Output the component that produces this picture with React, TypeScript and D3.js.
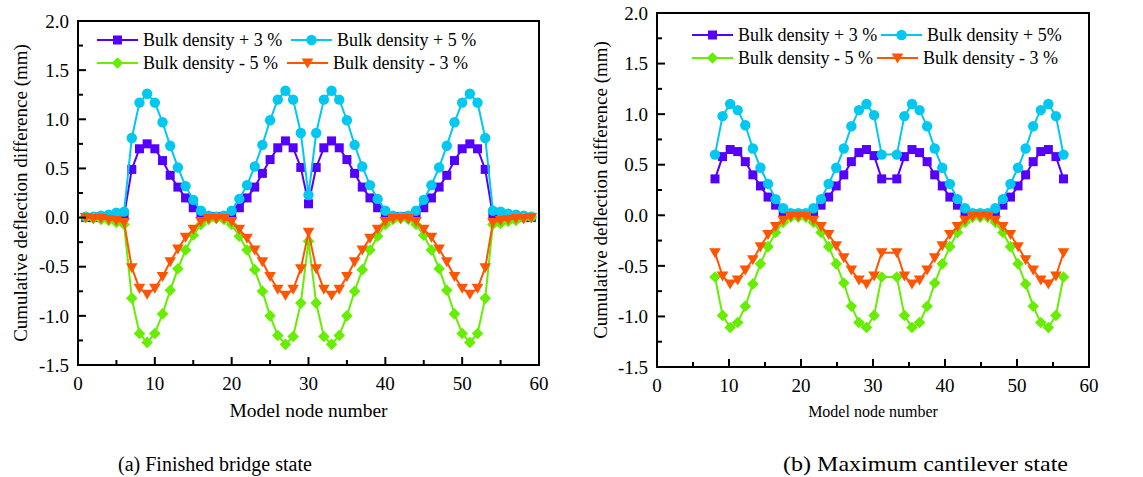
import React from 'react';
import * as d3 from 'd3';

// ---------- data ----------
const leftNodes = [1,2,3,4,5,6,7,8,9,10,11,12,13,14,15,16,17,18,19,20,21,22,23,24,25,26,27,28,29,30,31,32,33,34,35,36,37,38,39,40,41,42,43,44,45,46,47,48,49,50,51,52,53,54,55,56,57,58,59];
const leftPlus3 = [0.00,0.00,0.01,0.01,0.02,0.02, 0.49,0.70,0.75,0.70,0.58,0.43,0.31,0.20,0.10,0.03, 0.01,0.01,0.01, 0.03,0.10,0.20,0.31,0.45,0.59,0.71,0.78,0.71,0.51, 0.14, 0.51,0.71,0.78,0.71,0.59,0.45,0.31,0.20,0.10,0.03, 0.01,0.01,0.01, 0.03,0.10,0.20,0.31,0.43,0.58,0.70,0.75,0.70,0.49, 0.02,0.02,0.01,0.01,0.00,0.00];
const leftPlus5 = [0.01,0.01,0.02,0.03,0.05,0.06, 0.81,1.17,1.26,1.17,0.97,0.73,0.51,0.32,0.18,0.07, 0.02,0.01,0.02, 0.07,0.19,0.33,0.52,0.74,0.99,1.20,1.29,1.20,0.86, 0.23, 0.86,1.20,1.29,1.20,0.99,0.74,0.52,0.33,0.19,0.07, 0.02,0.01,0.02, 0.07,0.18,0.33,0.51,0.73,0.97,1.17,1.26,1.17,0.81, 0.07,0.06,0.04,0.03,0.02,0.01];
const leftMinus5 = [0.00,-0.01,-0.02,-0.03,-0.05,-0.07, -0.82,-1.18,-1.27,-1.18,-0.98,-0.74,-0.52,-0.33,-0.18,-0.07, -0.02,-0.01,-0.02, -0.07,-0.19,-0.33,-0.53,-0.75,-1.00,-1.20,-1.29,-1.21,-0.87, -0.24, -0.87,-1.21,-1.29,-1.20,-1.00,-0.75,-0.53,-0.33,-0.19,-0.07, -0.02,-0.01,-0.02, -0.07,-0.18,-0.33,-0.52,-0.74,-0.98,-1.18,-1.27,-1.18,-0.82, -0.07,-0.06,-0.04,-0.03,-0.01,0.00];
const leftMinus3 = [0.00,-0.01,-0.01,-0.02,-0.03,-0.05, -0.51,-0.72,-0.78,-0.72,-0.60,-0.45,-0.32,-0.20,-0.12,-0.04, -0.01,-0.01,-0.01, -0.04,-0.12,-0.21,-0.33,-0.45,-0.60,-0.73,-0.79,-0.73,-0.52, -0.15, -0.52,-0.73,-0.79,-0.73,-0.60,-0.45,-0.33,-0.21,-0.12,-0.04, -0.01,-0.01,-0.01, -0.04,-0.12,-0.20,-0.32,-0.45,-0.60,-0.72,-0.78,-0.72,-0.51, -0.05,-0.03,-0.02,-0.01,-0.01,0.00];

const rightNodes = [7,8,9,10,11,12,13,14,15,16,17,18,19,20,21,22,23,24,25,26,27,28,29,31,32,33,34,35,36,37,38,39,40,41,42,43,44,45,46,47,48,49,50,51,52,53];
const rightPlus3 = [0.36,0.58,0.65,0.63,0.53,0.40,0.29,0.18,0.10,0.03,0.01,0.01,0.01,0.03,0.10,0.18,0.29,0.40,0.53,0.62,0.65,0.59,0.36, 0.36,0.58,0.65,0.62,0.53,0.40,0.29,0.18,0.10,0.03,0.01,0.01,0.01,0.03,0.10,0.18,0.29,0.40,0.53,0.63,0.65,0.58,0.36];
const rightPlus5 = [0.60,0.98,1.10,1.04,0.89,0.66,0.47,0.31,0.16,0.07,0.02,0.02,0.02,0.07,0.16,0.31,0.47,0.66,0.88,1.04,1.10,0.99,0.60, 0.60,0.98,1.10,1.04,0.88,0.66,0.47,0.31,0.16,0.07,0.02,0.02,0.02,0.07,0.16,0.31,0.47,0.66,0.88,1.04,1.10,0.98,0.60];
const rightMinus5 = [-0.61,-0.99,-1.11,-1.06,-0.90,-0.68,-0.48,-0.31,-0.17,-0.07,-0.02,-0.02,-0.02,-0.07,-0.17,-0.31,-0.48,-0.67,-0.90,-1.06,-1.11,-0.99,-0.61, -0.61,-0.99,-1.11,-1.06,-0.90,-0.67,-0.48,-0.31,-0.17,-0.07,-0.02,-0.02,-0.02,-0.07,-0.17,-0.31,-0.48,-0.68,-0.90,-1.06,-1.11,-0.99,-0.61];
const rightMinus3 = [-0.37,-0.60,-0.68,-0.64,-0.54,-0.44,-0.31,-0.19,-0.11,-0.05,-0.01,-0.01,-0.01,-0.05,-0.11,-0.19,-0.30,-0.42,-0.54,-0.64,-0.68,-0.60,-0.37, -0.37,-0.60,-0.68,-0.64,-0.54,-0.42,-0.30,-0.19,-0.11,-0.05,-0.01,-0.01,-0.01,-0.05,-0.11,-0.19,-0.31,-0.44,-0.54,-0.64,-0.68,-0.60,-0.37];

const xTicks = [0, 10, 20, 30, 40, 50, 60];
const xMinorTicks = [5, 15, 25, 35, 45, 55];
const yTicks = [-1.5, -1.0, -0.5, 0.0, 0.5, 1.0, 1.5, 2.0];
const yMinorTicks = [-1.25, -0.75, -0.25, 0.25, 0.75, 1.25, 1.75];
const leftNames = ['Bulk density + 3 %', 'Bulk density + 5 %', 'Bulk density - 5 %', 'Bulk density - 3 %'];
const rightNames = ['Bulk density + 3 %', 'Bulk density + 5%', 'Bulk density - 5 %', 'Bulk density - 3 %'];
const colors = ['#5500FF', '#00C8F0', '#66EE00', '#FF5500'];
const shapes = ['square', 'circle', 'diamond', 'triangle'];
const yTitle = 'Cumulative deflection difference (mm)';
const xTitle = 'Model node number';
const captions = ['(a) Finished bridge state', '(b) Maximum cantilever state'];

const FONT = 'Liberation Serif, Times New Roman, serif';

function Marker({ shape, x, y, color }: { shape: string; x: number; y: number; color: string }) {
  if (shape === 'square') return <rect x={x - 4.5} y={y - 4.5} width={9} height={9} fill={color} />;
  if (shape === 'circle') return <circle cx={x} cy={y} r={5.2} fill={color} />;
  if (shape === 'diamond') {
    const s = 5.8;
    return <path d={`M${x},${y - s}L${x + s},${y}L${x},${y + s}L${x - s},${y}Z`} fill={color} />;
  }
  return <path d={`M${x - 5.8},${y - 4.5}L${x + 5.8},${y - 4.5}L${x},${y + 5.5}Z`} fill={color} />;
}

type PanelProps = {
  left: number; top: number; width: number; height: number;
  nodes: number[]; series: number[][]; names: string[];
  dataRange?: [number, number]; dataDomain?: [number, number];
  legendX: [number, number]; legendX2: [number, number]; legendY: [number, number];
  yTitleX: number; xTitleY: number; xTitleSize: number;
};

function Panel(p: PanelProps) {
  const xAxis = d3.scaleLinear().domain([0, 60]).range([p.left, p.left + p.width]);
  const xData = p.dataRange
    ? d3.scaleLinear().domain(p.dataDomain!).range(p.dataRange)
    : xAxis;
  const y = d3.scaleLinear().domain([-1.5, 2.0]).range([p.top + p.height, p.top]);
  const line = d3.line<[number, number]>().x(d => xData(d[0])).y(d => y(d[1]));
  const bottom = p.top + p.height;
  return (
    <g fontFamily={FONT}>
      {p.series.map((vals, si) => {
        const pts: [number, number][] = p.nodes.map((n, i) => [n, vals[i]]);
        return (
          <g key={si}>
            <path d={line(pts) || ''} fill="none" stroke={colors[si]} strokeWidth={2} />
            {pts.map((d, i) => (
              <Marker key={i} shape={shapes[si]} x={xData(d[0])} y={y(d[1])} color={colors[si]} />
            ))}
          </g>
        );
      })}
      <rect x={p.left} y={p.top} width={p.width} height={p.height} fill="none" stroke="#000" strokeWidth={2} />
      {yTicks.map(t => (
        <g key={'y' + t}>
          <line x1={p.left} x2={p.left + 8} y1={y(t)} y2={y(t)} stroke="#000" strokeWidth={2} />
          <text x={p.left - 9} y={y(t)} dy="0.35em" textAnchor="end" fontSize={19}>{t.toFixed(1)}</text>
        </g>
      ))}
      {yMinorTicks.map(t => (
        <line key={'ym' + t} x1={p.left} x2={p.left + 5} y1={y(t)} y2={y(t)} stroke="#000" strokeWidth={2} />
      ))}
      {xTicks.map(t => (
        <g key={'x' + t}>
          <line x1={xAxis(t)} x2={xAxis(t)} y1={bottom} y2={bottom - 8} stroke="#000" strokeWidth={2} />
          <text x={xAxis(t)} y={bottom + 25} textAnchor="middle" fontSize={19}>{t}</text>
        </g>
      ))}
      {xMinorTicks.map(t => (
        <line key={'xm' + t} x1={xAxis(t)} x2={xAxis(t)} y1={bottom} y2={bottom - 5} stroke="#000" strokeWidth={2} />
      ))}
      <text transform={`translate(${p.yTitleX},${p.top + p.height / 2}) rotate(-90)`} textAnchor="middle" fontSize={19}>{yTitle}</text>
      <text x={p.left + p.width / 2} y={p.xTitleY} textAnchor="middle" fontSize={p.xTitleSize}>{xTitle}</text>
      {p.names.map((nm, i) => {
        const col = i % 2;
        const row = Math.floor(i / 2);
        const lx = col === 0 ? p.legendX : p.legendX2;
        const ly = p.legendY[row];
        const x1 = (col === 0 ? lx[0] : (i === 3 ? lx[0] - 4 : lx[0]));
        const x2 = x1 + 41;
        return (
          <g key={'lg' + i}>
            <line x1={x1} x2={x2} y1={ly} y2={ly} stroke={colors[i]} strokeWidth={2} />
            <Marker shape={shapes[i]} x={(x1 + x2) / 2} y={ly} color={colors[i]} />
            <text x={x2 + 5} y={ly} dy="0.33em" fontSize={18}>{nm}</text>
          </g>
        );
      })}
    </g>
  );
}

export default function App() {
  return (
    <svg width={1143} height={477} style={{ position: 'absolute', left: 0, top: 0, background: '#fff' }}>
      <rect x={0} y={0} width={1143} height={477} fill="#fff" />
      <Panel left={78} top={21} width={461} height={344}
        nodes={leftNodes} series={[leftPlus3, leftPlus5, leftMinus5, leftMinus3]} names={leftNames}
        legendX={[97, 138]} legendX2={[291, 332]} legendY={[40, 63]}
        yTitleX={27} xTitleY={417} xTitleSize={19.5} />
      <Panel left={657} top={13} width={432} height={354}
        nodes={rightNodes} series={[rightPlus3, rightPlus5, rightMinus5, rightMinus3]} names={rightNames}
        dataDomain={[7, 53]} dataRange={[715, 1063.5]}
        legendX={[692, 734]} legendX2={[881, 923]} legendY={[35, 58]}
        yTitleX={607} xTitleY={417} xTitleSize={16} />
      <text x={118} y={471} fontSize={20} fontFamily={FONT}>{captions[0]}</text>
      <text x={783} y={471} fontSize={21} fontFamily={FONT} textLength={285} lengthAdjust="spacingAndGlyphs">{captions[1]}</text>
    </svg>
  );
}
